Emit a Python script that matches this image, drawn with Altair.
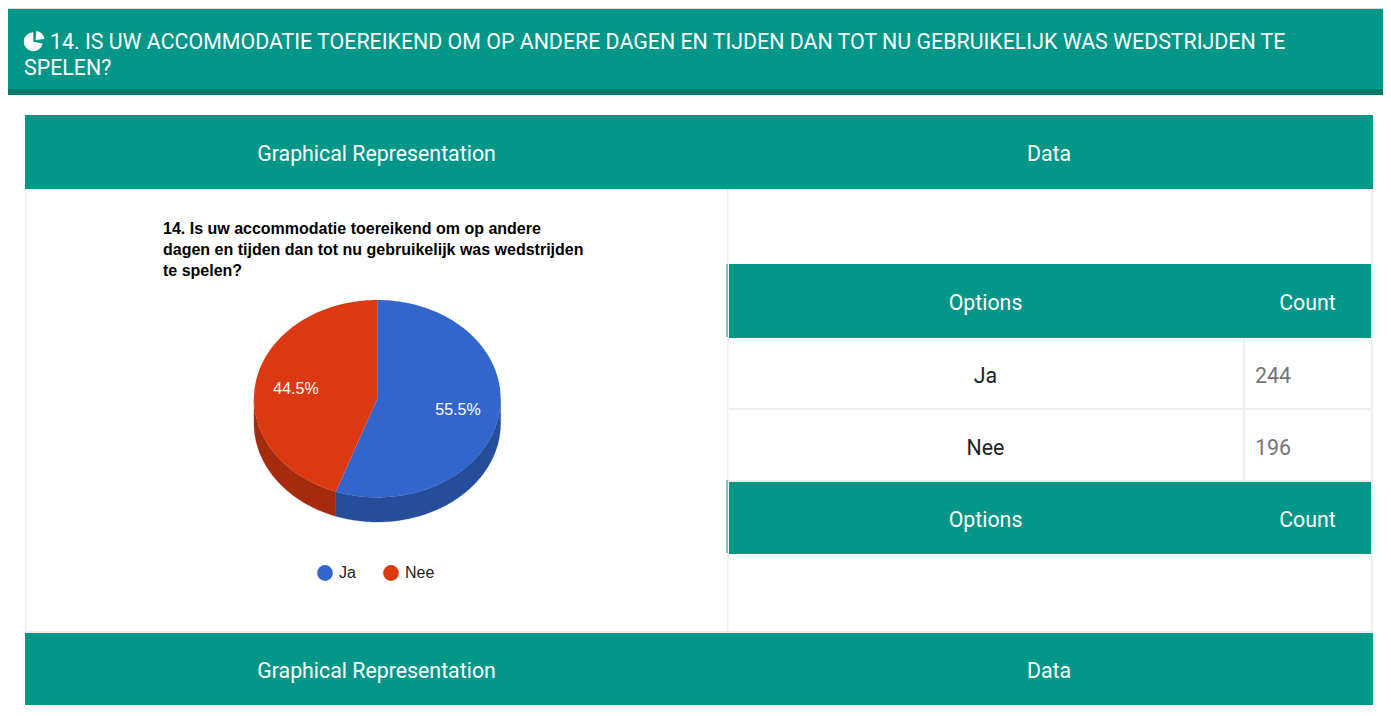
import math
import altair as alt

# ---- chart values -------------------------------------------------
options = ["Ja", "Nee"]
counts = [244, 196]
pie_colors = ["#3366cc", "#dc3912"]
wall_colors = ["#264d99", "#a52b0e"]

title_lines = [
    "14. Is uw accommodatie toereikend om op andere",
    "dagen en tijden dan tot nu gebruikelijk was wedstrijden",
    "te spelen?",
]
header_lines = [
    "14. IS UW ACCOMMODATIE TOEREIKEND OM OP ANDERE DAGEN EN TIJDEN DAN TOT NU GEBRUIKELIJK WAS WEDSTRIJDEN TE",
    "SPELEN?",
]
band_labels = ["Graphical Representation", "Data"]
table_labels = ["Options", "Count"]

# ---- page layout (reference pixels; the page margin is taken off) --
M = 8
TEAL, DARK, LINE = "#009688", "#00796b", "#eeeeee"
ROBOTO, ARIAL = "Roboto", "Liberation Sans"
PAGE_SIZE, CHART_SIZE = 21.33, 16
one = alt.Data(values=[{"a": 1}])


def rect(x0, y0, x1, y1, color):
    return alt.Chart(one).mark_rect(color=color).encode(
        x=alt.value(x0 - M), x2=alt.value(x1 - M),
        y=alt.value(y0 - M), y2=alt.value(y1 - M))


def text(s, x, y, size=PAGE_SIZE, color="white", align="center", font=ROBOTO, weight="normal"):
    return alt.Chart(one).mark_text(
        text=s, font=font, fontSize=size, color=color, align=align,
        baseline="alphabetic", fontWeight=weight,
    ).encode(x=alt.value(x - M), y=alt.value(y - M))


def icon(cx, cy, start, end, r):
    return alt.Chart(one).mark_arc(color="white", radius=r, theta=start, theta2=end).encode(
        x=alt.value(cx - M), y=alt.value(cy - M))


layers = [
    rect(8, 8, 1391, 9, "#dddddd"),
    rect(8, 9, 1391, 89, TEAL),
    rect(8, 89, 1391, 95, DARK),
    # panel borders
    rect(25, 189, 26.5, 633, LINE),
    rect(727, 189, 728.5, 633, LINE),
    rect(1371, 189, 1373, 633, LINE),
    rect(25, 631, 1373, 633, LINE),
    # table rules
    rect(729, 408, 1371, 410, LINE),
    rect(729, 480, 1371, 482, LINE),
    rect(1243, 338, 1245, 482, LINE),
    # bands
    rect(25, 115, 1373, 189, TEAL),
    rect(25, 633, 1373, 705, TEAL),
    rect(729, 264, 1371, 338, TEAL),
    rect(729, 482, 1371, 554, TEAL),
    rect(726.5, 264, 727.5, 337, TEAL),
    rect(726.5, 480, 727.5, 553, TEAL),
    # header icon
    icon(33.3, 41.7, 1.75, 6.28, 9.5),
    icon(35.5, 40, 0.1, 1.45, 9),
    text(header_lines[0], 50, 48.5, size=21.37, align="left"),
    text(header_lines[1], 24, 74.5, size=21.37, align="left"),
]
for y, ty in ((161, 0), (677.5, 0)):
    layers.append(text(band_labels[0], 376.5, y))
    layers.append(text(band_labels[1], 1049, y))
for y in (310, 526.5):
    layers.append(text(table_labels[0], 985.5, y))
    layers.append(text(table_labels[1], 1307.5, y))
for name, n, y in zip(options, counts, (382.5, 454.5)):
    layers.append(text(name, 985.5, y, color="#212121"))
    layers.append(text(str(n), 1255, y, color="#757575", align="left"))
for line, y in zip(title_lines, (233.6, 254.6, 275.6)):
    layers.append(text(line, 163, y, size=CHART_SIZE, color="black", align="left", font=ARIAL, weight="bold"))

# ---- tilted pie: every sector follows from the counts --------------
CX, CY, RX, RY, DEPTH = 377.3 - M, 398.7 - M, 123.3, 98.7, 24.6
total = sum(counts)
edges = [0.0]
for n in counts:
    edges.append(edges[-1] + 360.0 * n / total)


def rim(a0, a1, dy=0.0):
    steps = max(2, int(abs(a1 - a0)) + 1)
    pts = []
    for i in range(steps + 1):
        a = math.radians(a0 + (a1 - a0) * i / steps)
        pts.append([CX + RX * math.sin(a), CY - RY * math.cos(a) + dy])
    return pts


def feature(name, ring):
    ring = ring + [ring[0]]
    return {"type": "Feature", "properties": {"option": name},
            "geometry": {"type": "Polygon", "coordinates": [ring]}}


identity = dict(type="identity", scale=1, translate=[0, 0])

for i, name in enumerate(options):
    lo, hi = max(edges[i], 90.0), min(edges[i + 1], 270.0)
    wall = feature(name, rim(lo, hi) + rim(hi, lo, DEPTH))
    layers.append(
        alt.Chart(alt.Data(values=[wall])).mark_geoshape(
            fill=wall_colors[i], stroke=wall_colors[i], strokeWidth=0.3
        ).project(**identity)
    )

tops = [feature(name, [[CX, CY]] + rim(edges[i], edges[i + 1])) for i, name in enumerate(options)]
layers.append(
    alt.Chart(alt.Data(values=tops)).mark_geoshape(strokeWidth=0).encode(
        color=alt.Color(
            "properties.option:N",
            scale=alt.Scale(domain=options, range=pie_colors),
            legend=alt.Legend(
                orient="none", legendX=309, legendY=557, direction="horizontal", title=None,
                symbolType="circle", symbolSize=250, symbolStrokeWidth=0, labelFont=ARIAL,
                labelFontSize=CHART_SIZE, labelColor="#222222", columnPadding=27, labelOffset=6, padding=0,
            ),
        )
    ).project(**identity)
)
pct_pos = [(458, 415), (296, 394)]
for n, (x, y) in zip(counts, pct_pos):
    layers.append(text(f"{100 * n / total:.1f}%", x, y, size=CHART_SIZE, font=ARIAL))

chart = alt.layer(*layers).properties(
    width=1375, height=700, padding=0, autosize=alt.AutoSizeParams(type="none")
).configure_view(stroke=None)

chart.save("out.html", embed_options={"renderer": "svg", "actions": False})
